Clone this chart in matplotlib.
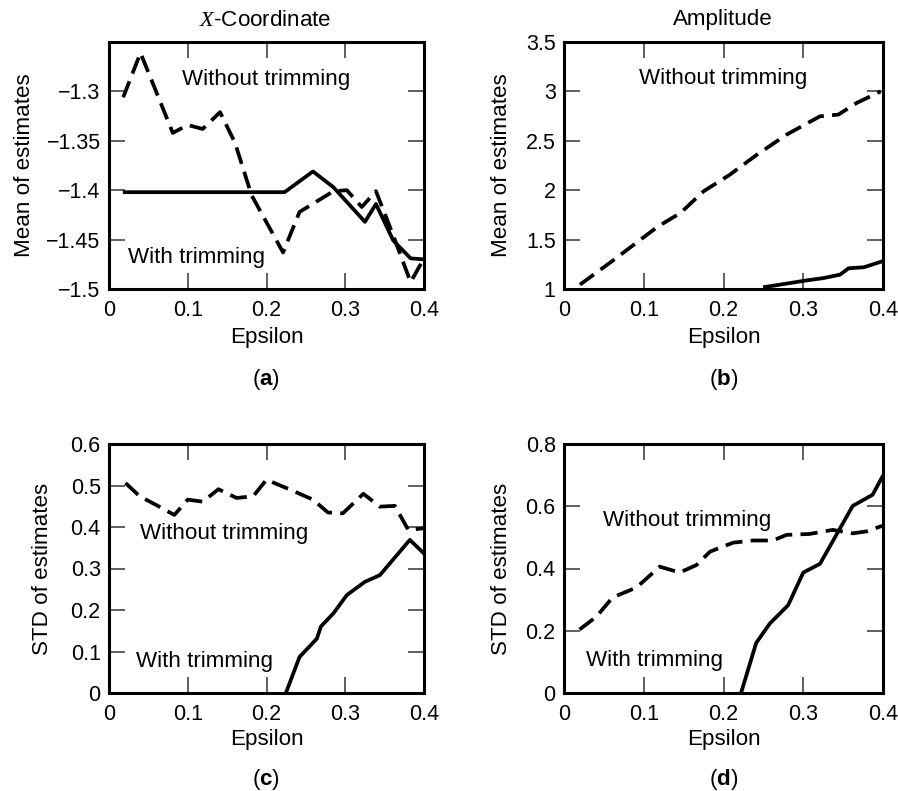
import matplotlib
matplotlib.use("Agg")
import matplotlib.pyplot as plt
from matplotlib.ticker import FuncFormatter

plt.rcParams['font.family'] = ['Liberation Sans', 'DejaVu Sans']
plt.rcParams['mathtext.fontset'] = 'custom'
plt.rcParams['mathtext.rm'] = 'Liberation Sans'
plt.rcParams['mathtext.bf'] = 'Liberation Sans:bold'
plt.rcParams['mathtext.it'] = 'Liberation Serif:italic'

# ---- data ----
# (a) X-coordinate, mean of estimates
eps_a_wo = [0.018, 0.040, 0.081, 0.100, 0.119, 0.141, 0.160, 0.181, 0.221, 0.242,
            0.285, 0.302, 0.321, 0.339, 0.361, 0.383, 0.400]
mean_x_wo = [-1.306, -1.261, -1.342, -1.334, -1.338, -1.321, -1.352, -1.405, -1.463, -1.422,
             -1.401, -1.400, -1.417, -1.401, -1.446, -1.493, -1.469]
eps_a_w = [0.020, 0.223, 0.259, 0.285, 0.325, 0.339, 0.361, 0.383, 0.400]
mean_x_w = [-1.402, -1.402, -1.381, -1.397, -1.432, -1.414, -1.451, -1.469, -1.470]

# (b) Amplitude, mean of estimates
eps_b_wo = [0.020, 0.060, 0.118, 0.146, 0.175, 0.208, 0.242, 0.279, 0.321, 0.344, 0.367, 0.397]
mean_amp_wo = [1.044, 1.28, 1.634, 1.769, 1.989, 2.157, 2.36, 2.562, 2.748, 2.765, 2.883, 3.0]
eps_b_w = [0.252, 0.305, 0.325, 0.346, 0.357, 0.376, 0.399]
mean_amp_w = [1.02, 1.088, 1.11, 1.145, 1.21, 1.22, 1.28]

# (c) X-coordinate, STD of estimates
eps_c_wo = [0.021, 0.039, 0.060, 0.083, 0.100, 0.119, 0.139, 0.162, 0.183, 0.200,
            0.230, 0.259, 0.278, 0.297, 0.323, 0.344, 0.363, 0.380, 0.400]
std_x_wo = [0.506, 0.474, 0.453, 0.429, 0.466, 0.461, 0.491, 0.470, 0.474, 0.514,
            0.490, 0.466, 0.435, 0.433, 0.480, 0.449, 0.451, 0.393, 0.397]
eps_c_w = [0.2246, 0.242, 0.264, 0.269, 0.285, 0.302, 0.325, 0.344, 0.382, 0.399]
std_x_w = [0.0, 0.087, 0.131, 0.160, 0.192, 0.236, 0.268, 0.284, 0.369, 0.338]

# (d) Amplitude, STD of estimates
eps_d_wo = [0.0196, 0.0405, 0.061, 0.091, 0.120, 0.145, 0.166, 0.183, 0.212, 0.237,
            0.262, 0.279, 0.308, 0.337, 0.362, 0.379, 0.399]
std_amp_wo = [0.204, 0.245, 0.307, 0.339, 0.406, 0.387, 0.411, 0.454, 0.483, 0.490,
              0.490, 0.508, 0.511, 0.524, 0.513, 0.519, 0.537]
eps_d_w = [0.222, 0.241, 0.258, 0.281, 0.300, 0.321, 0.362, 0.387, 0.399]
std_amp_w = [0.0, 0.161, 0.223, 0.282, 0.387, 0.415, 0.601, 0.637, 0.694]

x_ticks = [0, 0.1, 0.2, 0.3, 0.4]
yticks_a = [-1.5, -1.45, -1.4, -1.35, -1.3]
yticks_b = [1, 1.5, 2, 2.5, 3, 3.5]
yticks_c = [0, 0.1, 0.2, 0.3, 0.4, 0.5, 0.6]
yticks_d = [0, 0.2, 0.4, 0.6, 0.8]

W, H = 898, 791
FS = 16.1
TFS = 15.5
fig = plt.figure(figsize=(W / 100, H / 100), dpi=100)


def px_axes(l, t, r, b):
    return [l / W, 1 - b / H, (r - l) / W, (b - t) / H]


def fx(x):
    return x / W


def fy(y):
    return 1 - y / H


fmt = FuncFormatter(lambda v, p: ('%g' % round(v, 4)).replace('-', '\u2212'))

LW = 2.7
DASH = (0, (4.6, 2.2))


def style(ax, yticks, ylim):
    ax.set_xlim(0, 0.4)
    ax.set_ylim(*ylim)
    ax.set_xticks(x_ticks)
    ax.set_yticks(yticks)
    ax.xaxis.set_major_formatter(fmt)
    ax.yaxis.set_major_formatter(fmt)
    ax.tick_params(direction='in', length=11.5, width=1.1, color='#333333',
                   top=True, right=True, labelsize=TFS)
    ax.tick_params(axis='x', pad=8)
    ax.tick_params(axis='y', pad=6)
    for s in ax.spines.values():
        s.set_linewidth(2.2)


axes_px = {
    'a': (109, 42, 424, 289),
    'b': (564, 42, 883, 289),
    'c': (109, 444, 424, 693),
    'd': (564, 444, 883, 693),
}

ax_a = fig.add_axes(px_axes(*axes_px['a']))
ax_a.plot(eps_a_wo, mean_x_wo, color='black', lw=LW, linestyle=DASH)
ax_a.plot(eps_a_w, mean_x_w, color='black', lw=LW)
style(ax_a, yticks_a, (-1.5, -1.25))
ax_a.text(0.2, -1.288, 'Without trimming', ha='center', va='center', fontsize=FS)
ax_a.text(0.024, -1.468, 'With trimming', ha='left', va='center', fontsize=FS)

ax_b = fig.add_axes(px_axes(*axes_px['b']))
ax_b.plot(eps_b_wo, mean_amp_wo, color='black', lw=LW, linestyle=DASH)
ax_b.plot(eps_b_w, mean_amp_w, color='black', lw=LW)
style(ax_b, yticks_b, (1, 3.5))
ax_b.text(0.2, 3.13, 'Without trimming', ha='center', va='center', fontsize=FS)

ax_c = fig.add_axes(px_axes(*axes_px['c']))
ax_c.plot(eps_c_wo, std_x_wo, color='black', lw=LW, linestyle=DASH)
ax_c.plot(eps_c_w, std_x_w, color='black', lw=LW)
style(ax_c, yticks_c, (0, 0.6))
ax_c.text(0.039, 0.385, 'Without trimming', ha='left', va='center', fontsize=FS)
ax_c.text(0.034, 0.077, 'With trimming', ha='left', va='center', fontsize=FS)

ax_d = fig.add_axes(px_axes(*axes_px['d']))
ax_d.plot(eps_d_wo, std_amp_wo, color='black', lw=LW, linestyle=DASH)
ax_d.plot(eps_d_w, std_amp_w, color='black', lw=LW)
style(ax_d, yticks_d, (0, 0.8))
ax_d.text(0.049, 0.554, 'Without trimming', ha='left', va='center', fontsize=FS)
ax_d.text(0.028, 0.103, 'With trimming', ha='left', va='center', fontsize=FS)

# titles
fig.text(fx(265), fy(20), r'$X$-Coordinate', ha='center', va='center', fontsize=FS)
fig.text(fx(723), fy(20), 'Amplitude', ha='center', va='center', fontsize=FS)

# x labels and panel labels
for key, lab in zip('abcd', ['a', 'b', 'c', 'd']):
    l, t, r, b = axes_px[key]
    cx = (l + r) / 2
    ey = 338 if key in 'ab' else 739
    py = 380 if key in 'ab' else 780
    fig.text(fx(cx), fy(ey), 'Epsilon', ha='center', va='center', fontsize=FS)
    fig.text(fx(cx), fy(py), '(' + r'$\mathbf{%s}$' % lab + ')', ha='center', va='center',
             fontsize=FS)

# y labels
ylabels = {'a': ('Mean of estimates', 25), 'b': ('Mean of estimates', 502),
           'c': ('STD of estimates', 43), 'd': ('STD of estimates', 502)}
for key, (txt, x) in ylabels.items():
    l, t, r, b = axes_px[key]
    fig.text(fx(x), fy((t + b) / 2), txt, rotation=90, ha='center', va='center', fontsize=FS)

fig.savefig('out.png', dpi=100, facecolor='white')
